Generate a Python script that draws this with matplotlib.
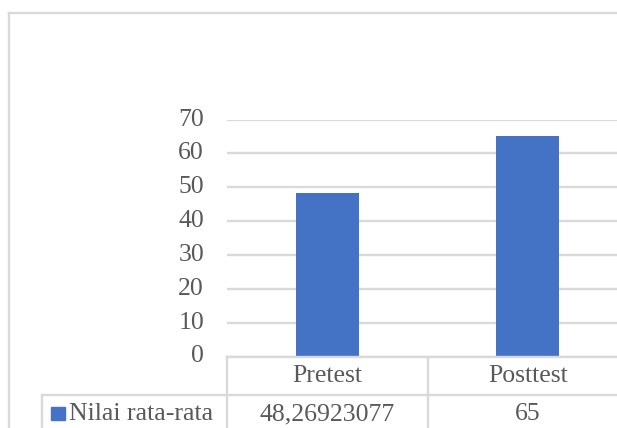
import matplotlib
matplotlib.use('Agg')
import matplotlib.pyplot as plt
from matplotlib.lines import Line2D
from matplotlib.patches import Rectangle
import matplotlib.transforms as mtransforms

# data
categories = ['Pretest', 'Posttest']
values = [48.26923077, 65]
value_labels = ['48,26923077', '65']
series_name = 'Nilai rata-rata'
yticks = [0, 10, 20, 30, 40, 50, 60, 70]

W, H = 617, 428
bar_color = '#4472C4'
grid_color = '#d9d9d9'
text_color = '#595959'
fs = 18.5
plt.rcParams['font.family'] = ['Liberation Serif', 'DejaVu Serif']

fig = plt.figure(figsize=(W / 100, H / 100), dpi=100)

def fx(px):
    return px / W

def fy(py):
    return 1 - py / H

# plot area (extends past the right edge like the cropped original)
left, right, top, bottom = 227, 628, 119.5, 356.5
ax = fig.add_axes([fx(left), fy(bottom), fx(right - left), fy(top) - fy(bottom)])
x = range(len(categories))
ax.bar(x, values, width=0.313, color=bar_color, zorder=3)
ax.set_xlim(-0.5, 1.5)
ax.set_ylim(0, 70)
ax.set_yticks(yticks)
ax.yaxis.grid(True, color=grid_color, linewidth=1.7)
ax.set_axisbelow(True)
ax.set_xticks([])
for s in ax.spines.values():
    s.set_visible(False)
ax.tick_params(axis='y', length=0, pad=16.5, labelsize=fs, labelcolor=text_color)
for lab in ax.get_yticklabels():
    lab.set_verticalalignment('center')

# data table below the axis
trans = mtransforms.blended_transform_factory(ax.transData, fig.transFigure)
lw = 1.7
row1 = 394.5
fig.add_artist(Line2D([fx(227), 1], [fy(356.5), fy(356.5)], color=grid_color, lw=lw))
fig.add_artist(Line2D([fx(42), 1], [fy(row1), fy(row1)], color=grid_color, lw=lw))
fig.add_artist(Line2D([fx(42), fx(42)], [fy(row1), 0], color=grid_color, lw=lw))
for xb in [-0.5, 0.5]:
    fig.add_artist(Line2D([xb, xb], [fy(356.5), 0], color=grid_color, lw=lw, transform=trans))

for i, cat in enumerate(categories):
    fig.text(i, fy(376), cat, transform=trans, ha='center', va='center',
             fontsize=fs, color=text_color)
    fig.text(i, fy(414), value_labels[i], transform=trans, ha='center', va='center',
             fontsize=fs, color=text_color)

fig.add_artist(Rectangle((fx(51), fy(420)), fx(14), fy(407) - fy(420), color=bar_color))
fig.text(fx(69), fy(414), series_name, ha='left', va='center',
         fontsize=fs, color=text_color)

# chart border (cropped)
fig.add_artist(Line2D([fx(9), 1], [fy(12.5), fy(12.5)], color=grid_color, lw=lw))
fig.add_artist(Line2D([fx(9), fx(9)], [fy(12.5), 0], color=grid_color, lw=lw))

fig.savefig('out.png', dpi=100, facecolor='white')
